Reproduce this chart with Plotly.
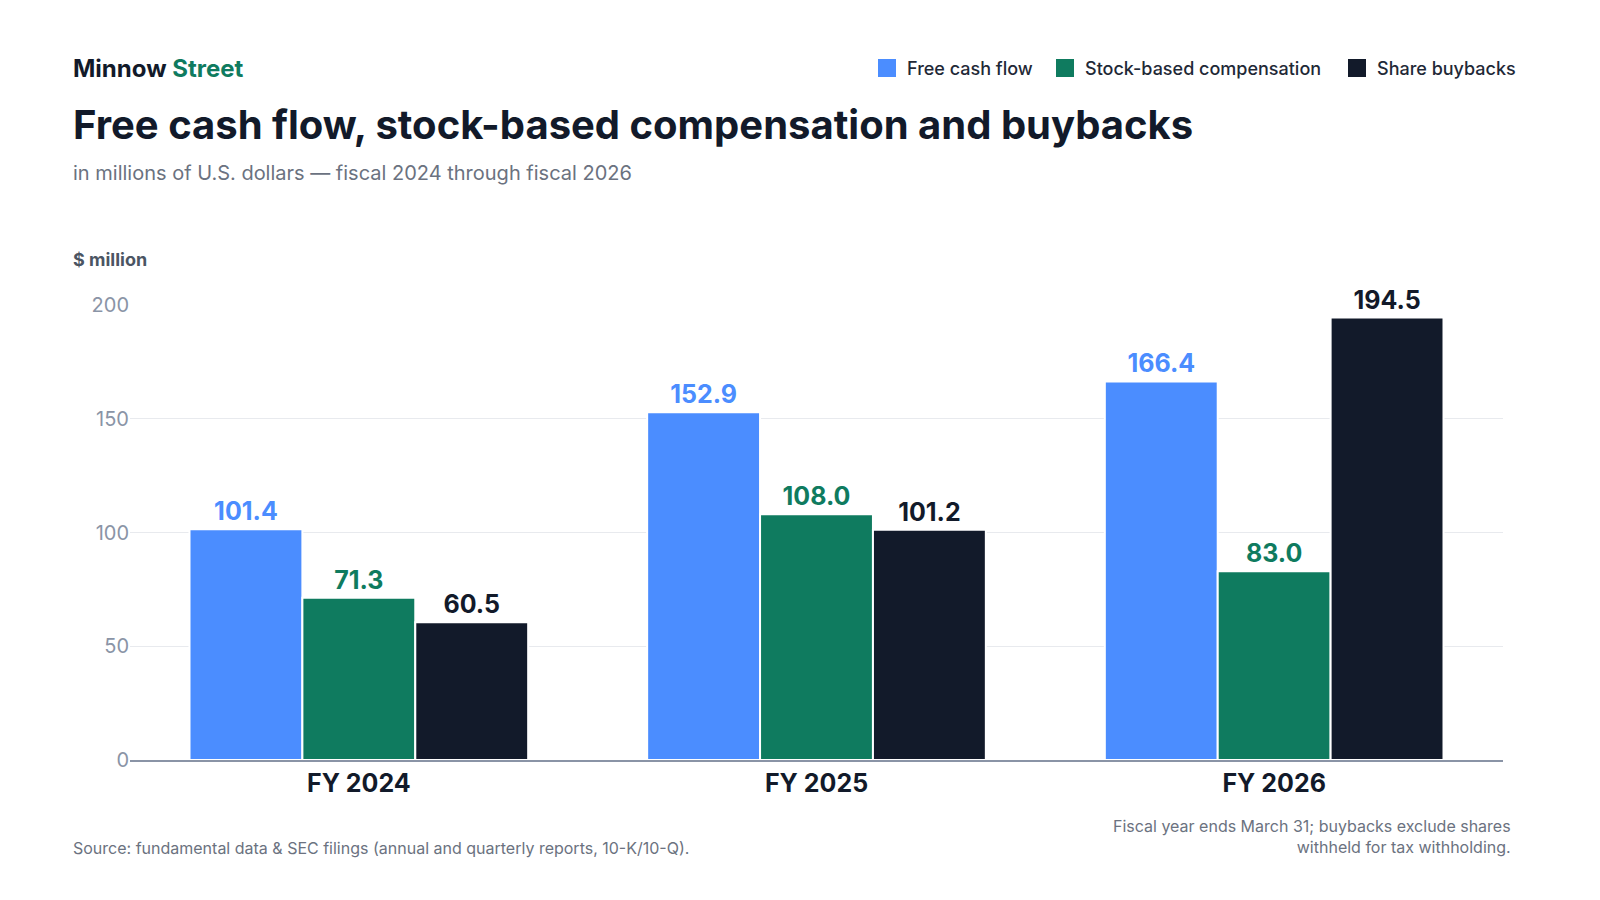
import plotly.graph_objects as go

categories = ["FY 2024", "FY 2025", "FY 2026"]
fcf = [101.4, 152.9, 166.4]
sbc = [71.3, 108.0, 83.0]
buybacks = [60.5, 101.2, 194.5]
series = [("Free cash flow", fcf, "#4b8dff"),
          ("Stock-based compensation", sbc, "#0f7b5f"),
          ("Share buybacks", buybacks, "#121a2a")]

fig = go.Figure()
for name, vals, col in series:
    fig.add_bar(x=categories, y=vals, name=name, marker=dict(color=col, line=dict(color="white", width=2)),
                text=[f"{v:.1f}" for v in vals], textposition="outside", cliponaxis=False,
                textfont=dict(family="Inter", size=25, color=col, weight="bold"))

F = "Inter"
fig.update_layout(
    width=1600, height=900, plot_bgcolor="white", paper_bgcolor="white",
    margin=dict(l=122, r=105, t=297, b=148),
    barmode="group", bargap=0.26, bargroupgap=0,
    font=dict(family=F, color="#1f2937"),
    showlegend=False,
    yaxis=dict(range=[0, 200], tickvals=[0, 50, 100, 150, 200], gridcolor="#e8eaee",
               tickfont=dict(size=20, color="#8a94a6"), ticks="", ticklen=0, zeroline=False,
               showline=False),
    xaxis=dict(tickfont=dict(size=25, color="#121a2a", weight="bold"), showline=True,
               linecolor="#8a94a6", linewidth=1.5, ticks=""),
)
ann = [
    dict(x=63, y=60, text="<b>Minnow <span style='color:#0f7b5f'>Street</span></b>", size=24, color="#121a2a", xa="left"),
    dict(x=63, y=116, text="<b>Free cash flow, stock-based compensation and buybacks</b>", size=40, color="#121a2a", xa="left"),
    dict(x=63, y=165, text="in millions of U.S. dollars — fiscal 2024 through fiscal 2026", size=20, color="#6b7280", xa="left"),
    dict(x=63, y=252, text="<b>$ million</b>", size=18, color="#4b5563", xa="left"),
    dict(x=63, y=840, text="Source: fundamental data &amp; SEC filings (annual and quarterly reports, 10-K/10-Q).", size=16, color="#6b7280", xa="left"),
    dict(x=1505, y=828, text="Fiscal year ends March 31; buybacks exclude shares<br>withheld for tax withholding.", size=16, color="#6b7280", xa="right"),
]
for a in ann:
    fig.add_annotation(xref="paper", yref="paper", x=(a["x"] - 122) / 1373, y=(752 - a["y"]) / 455,
                       text=a["text"], showarrow=False, xanchor=a["xa"], yanchor="middle",
                       align=a["xa"], font=dict(family=F, size=a["size"], color=a["color"]))
# legend
legx = [870, 1048, 1340]
for (name, vals, col), lx in zip(series, legx):
    fig.add_shape(type="rect", xref="paper", yref="paper", x0=(lx - 122) / 1373, x1=(lx + 18 - 122) / 1373,
                  y0=(752 - 69) / 455, y1=(752 - 51) / 455, fillcolor=col, line=dict(width=0))
    fig.add_annotation(xref="paper", yref="paper", x=(lx + 27 - 122) / 1373, y=(752 - 60) / 455, text=name,
                       showarrow=False, xanchor="left", yanchor="middle",
                       font=dict(family=F, size=18, color="#1f2937", weight=500))
fig.write_html("out.html")
